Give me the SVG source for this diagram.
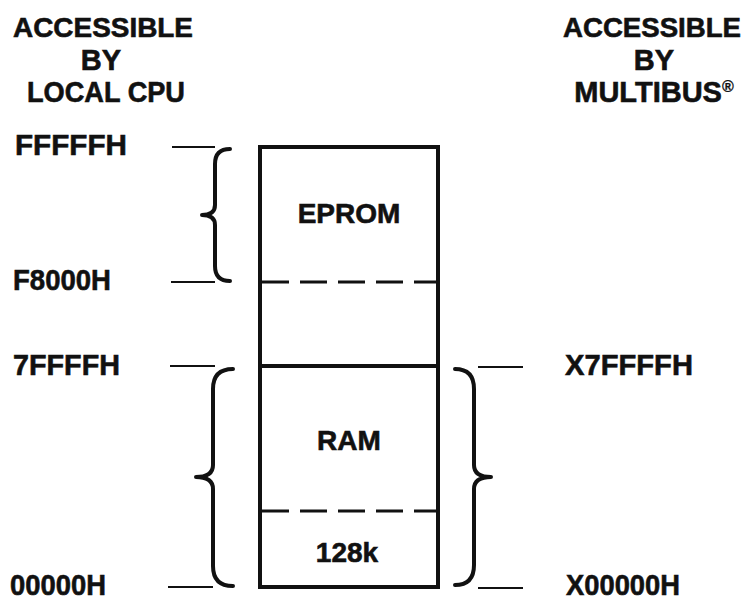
<svg xmlns="http://www.w3.org/2000/svg" width="748" height="600" viewBox="0 0 748 600">
<style>
text{font-family:"Liberation Sans",Arial,sans-serif;font-weight:bold;fill:#111;stroke:#111;stroke-width:0.6}
.hd{font-size:29px;text-anchor:middle}
.hd2{font-size:28px;text-anchor:middle}
.ad{font-size:30px}
.lb{font-size:28px;text-anchor:middle}
.tick{stroke:#111;stroke-width:2.2;fill:none}
.brace{stroke:#111;stroke-width:4;fill:none;stroke-linecap:round;stroke-linejoin:round}
.box{stroke:#111;stroke-width:4;fill:#fff}
.dash{stroke:#111;stroke-width:3;stroke-dasharray:27 11;fill:none}
</style>
<rect width="748" height="600" fill="#fff"/>
<g id="header-left">
<text class="hd2" x="103" y="37" textLength="180" lengthAdjust="spacingAndGlyphs">ACCESSIBLE</text>
<text class="hd" x="101" y="70">BY</text>
<text class="hd" x="106" y="102" textLength="158" lengthAdjust="spacingAndGlyphs">LOCAL CPU</text>
</g>
<g id="header-right">
<text class="hd2" x="652" y="37" textLength="178" lengthAdjust="spacingAndGlyphs">ACCESSIBLE</text>
<text class="hd" x="654" y="70">BY</text>
<text class="hd" x="654" y="102">MULTIBUS<tspan font-size="16" dy="-10" stroke-width="0.3">®</tspan></text>
</g>
<g id="memory-box">
<rect class="box" x="260" y="147" width="178" height="440"/>
<line x1="260" y1="366" x2="438" y2="366" stroke="#111" stroke-width="4"/>
</g>
<g id="eprom">
<line class="dash" x1="262" y1="282" x2="436" y2="282"/>
<text class="lb" x="349" y="223">EPROM</text>
</g>
<g id="ram">
<text class="lb" x="349" y="450">RAM</text>
<line class="dash" x1="262" y1="511" x2="436" y2="511"/>
<text class="lb" x="347" y="562">128k</text>
</g>
<g id="addresses-left">
<text class="ad" x="15" y="155" textLength="112" lengthAdjust="spacingAndGlyphs">FFFFFH</text>
<text class="ad" x="13" y="290" textLength="98" lengthAdjust="spacingAndGlyphs">F8000H</text>
<text class="ad" x="13" y="375" textLength="107" lengthAdjust="spacingAndGlyphs">7FFFFH</text>
<text class="ad" x="10" y="595" textLength="96" lengthAdjust="spacingAndGlyphs">00000H</text>
</g>
<g id="addresses-right">
<text class="ad" x="565" y="375" textLength="128" lengthAdjust="spacingAndGlyphs">X7FFFFH</text>
<text class="ad" x="566" y="595" textLength="114" lengthAdjust="spacingAndGlyphs">X00000H</text>
</g>
<g id="connectors">
<line class="tick" x1="172" y1="147" x2="215" y2="147"/>
<line class="tick" x1="171" y1="282" x2="215" y2="282"/>
<line class="tick" x1="170" y1="366" x2="215" y2="366"/>
<line class="tick" x1="168" y1="587" x2="213" y2="587"/>
<line class="tick" x1="478" y1="367" x2="523" y2="367"/>
<line class="tick" x1="478" y1="588" x2="523" y2="588"/>
<path class="brace" d="M230,149 Q215,149 215,164 L215,205 Q215,215 202,215 Q215,215 215,225 L215,266 Q215,281 230,281"/>
<path class="brace" d="M233,369 Q213,369 213,389 L213,465 Q213,477 196,477 Q213,477 213,489 L213,566 Q213,586 233,586"/>
<path class="brace" d="M455,369 Q474,369 474,389 L474,465 Q474,477 491,477 Q474,477 474,489 L474,565 Q474,585 455,585"/>
</g>
</svg>
